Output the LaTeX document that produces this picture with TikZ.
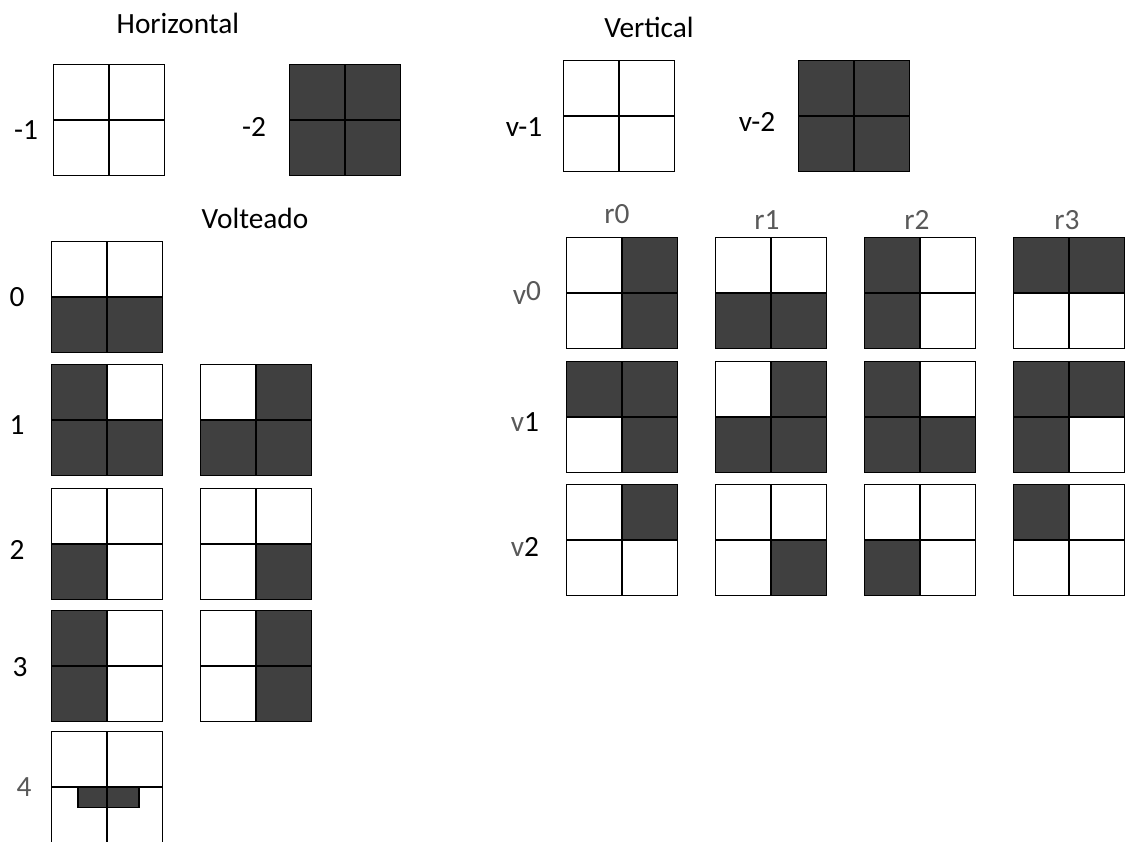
\documentclass[tikz,border=0pt]{standalone}
\usepackage{fontspec}
\setmainfont{Carlito}
\definecolor{dk}{HTML}{404040}
\definecolor{lbgray}{HTML}{595959}
\tikzset{
  boxnode/.style={inner sep=0pt, minimum width=82.5pt, minimum height=82.5pt},
  gridline/.style={draw=black, line width=1.1pt},
  darkcell/.style={fill=dk},
  lbl/.style={inner sep=0pt, font=\fontsize{22}{26}\selectfont, text=black},
  glbl/.style={lbl, text=lbgray},
}
% #1 name, #2 x, #3 y (top-left in px), #4 TL, #5 TR, #6 BL, #7 BR
\newcommand{\quadbox}[7]{%
  \node[boxnode] (#1) at (#2+55,#3+55) {};
  \ifnum#4=1 \fill[darkcell] (#1.north west) rectangle (#1.center);\fi
  \ifnum#5=1 \fill[darkcell] (#1.north) rectangle (#1.east);\fi
  \ifnum#6=1 \fill[darkcell] (#1.west) rectangle (#1.south);\fi
  \ifnum#7=1 \fill[darkcell] (#1.center) rectangle (#1.south east);\fi
  \draw[gridline] (#1.north) -- (#1.south);
  \draw[gridline] (#1.west) -- (#1.east);
  \draw[gridline] (#1.north west) rectangle (#1.south east);
}
\begin{document}
\begin{tikzpicture}[x=0.75pt,y=-0.75pt]
\useasboundingbox (0,0) rectangle (1125,842);
\fill[white] (0,0) rectangle (1125,842);
% titles
\node[lbl] (tH) at (178,23) {Horizontal};
\node[lbl] (tV) at (649,27) {Vertical};
\node[lbl] (tVo) at (255,218) {Volteado};
% Horizontal
\node[lbl] (lm1) at (26,130) {-1};
\node[lbl] (lm2) at (254,127) {-2};
\quadbox{hm1}{54}{65}{0}{0}{0}{0}
\quadbox{hm2}{290}{65}{1}{1}{1}{1}
% Vertical
\node[lbl] (lv1) at (524,127) {v-1};
\node[lbl] (lv2) at (757,122) {v-2};
\quadbox{vm1}{564}{61}{0}{0}{0}{0}
\quadbox{vm2}{799}{61}{1}{1}{1}{1}
% Volteado
\node[lbl] (l0) at (17,297) {0};
\node[lbl] (l1) at (17,425) {1};
\node[lbl] (l2) at (17,550) {2};
\node[lbl] (l3) at (20,667) {3};
\node[glbl] (l4) at (24,787) {4};
\quadbox{f0}{52}{242}{0}{0}{1}{1}
\quadbox{f1a}{52}{365}{1}{0}{1}{1}
\quadbox{f1b}{201}{365}{0}{1}{1}{1}
\quadbox{f2a}{52}{489}{0}{0}{1}{0}
\quadbox{f2b}{201}{489}{0}{0}{0}{1}
\quadbox{f3a}{52}{611}{1}{0}{1}{0}
\quadbox{f3b}{201}{611}{0}{1}{0}{1}
\node[boxnode] (f4) at (107,787) {};
\node[inner sep=0pt, minimum width=45.75pt, minimum height=15pt, fill=dk, draw=black, line width=1.1pt, anchor=north] (f4bar) at (108.5,787) {};
\draw[gridline] (f4.north) -- (f4.south);
\draw[gridline] (f4.west) -- (f4.east);
\draw[gridline] (f4.north west) rectangle (f4.south east);
% column / row labels
\node[glbl] (r0) at (617,214) {r0};
\node[glbl] (r1) at (767,220) {r1};
\node[glbl] (r2) at (917,220) {r2};
\node[glbl] (r3) at (1067,220) {r3};
\node[glbl] (v0) at (527,293) {v\raisebox{3pt}{0}};
\node[lbl] (v1) at (525,422) {\textcolor{lbgray}{v}1};
\node[lbl] (v2) at (525,547) {\textcolor{lbgray}{v}2};
% grid v0
\quadbox{g00}{567}{238}{0}{1}{0}{1}
\quadbox{g01}{716}{238}{0}{0}{1}{1}
\quadbox{g02}{865}{238}{1}{0}{1}{0}
\quadbox{g03}{1014}{238}{1}{1}{0}{0}
% grid v1
\quadbox{g10}{567}{362}{1}{1}{0}{1}
\quadbox{g11}{716}{362}{0}{1}{1}{1}
\quadbox{g12}{865}{362}{1}{0}{1}{1}
\quadbox{g13}{1014}{362}{1}{1}{1}{0}
% grid v2
\quadbox{g20}{567}{485}{0}{1}{0}{0}
\quadbox{g21}{716}{485}{0}{0}{0}{1}
\quadbox{g22}{865}{485}{0}{0}{1}{0}
\quadbox{g23}{1014}{485}{1}{0}{0}{0}
\end{tikzpicture}
\end{document}
